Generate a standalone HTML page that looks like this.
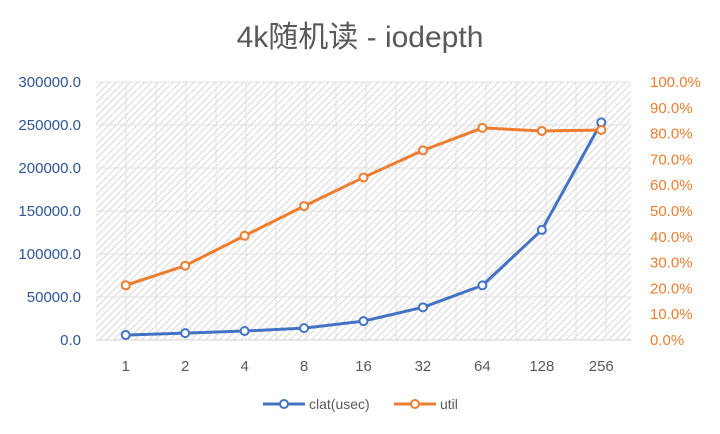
<!DOCTYPE html>
<html><head><meta charset="utf-8"><style>
body{margin:0;background:#fff;}
svg{display:block;font-family:"Liberation Sans","Noto Sans CJK SC",sans-serif;}
</style></head><body>
<svg width="720" height="434">
<defs>
<pattern id="hatch" patternUnits="userSpaceOnUse" width="5" height="5" patternTransform="rotate(45)">
<rect width="5" height="5" fill="#fff"/><line x1="0" y1="0" x2="0" y2="5" stroke="#d8d8d8" stroke-width="2"/>
</pattern>
</defs>
<text x="360" y="47" text-anchor="middle" font-size="30" fill="#595959">4k随机读 - iodepth</text>
<rect x="96" y="82" width="535" height="258" fill="url(#hatch)"/>
<g id="grid"></g><g id="axes"></g><g id="series"></g>
<g>
<line x1="263" y1="404" x2="305" y2="404" stroke="#4472c4" stroke-width="3"/><circle cx="284" cy="404" r="4" fill="#fff" stroke="#4472c4" stroke-width="2"/>
<text x="309" y="409" font-size="14" fill="#595959">clat(usec)</text>
<line x1="394" y1="404" x2="436" y2="404" stroke="#ed7d31" stroke-width="3"/><circle cx="415" cy="404" r="4" fill="#fff" stroke="#ed7d31" stroke-width="2"/>
<text x="440" y="409" font-size="14" fill="#595959">util</text>
</g>
</svg>
<script>
const categories=["1","2","4","8","16","32","64","128","256"];
const clat=[5800,8000,10400,13800,22000,38000,63500,128000,253000];
const util=[21.2,28.8,40.4,51.9,63.0,73.5,82.2,81.0,81.4];
const leftTicks=[0,50000,100000,150000,200000,250000,300000];
const rightTicks=[0,10,20,30,40,50,60,70,80,90,100];
const NS="http://www.w3.org/2000/svg";
const L=96,R=631,T=82,B=340;
const xs=i=>L+(R-L)/categories.length*(i+0.5);
const yl=v=>B-(B-T)*v/300000;
const yr=v=>B-(B-T)*v/100;
function mk(tag,attrs,parent){const e=document.createElementNS(NS,tag);for(const k in attrs)e.setAttribute(k,attrs[k]);document.getElementById(parent).appendChild(e);return e;}
for(let x=L+30;x<R;x+=30){const e=mk('line',{x1:x,y1:T,x2:x,y2:B,stroke:'#e0e0e0','stroke-width':1},'grid');

}
leftTicks.forEach(v=>{const y=yl(v);
const g=mk('line',{x1:L,y1:y,x2:R,y2:y,stroke:v===0?'#d0d0d0':'#e0e0e0','stroke-width':1},'grid');


const t=mk('text',{x:81,y:y+5,'text-anchor':'end','font-size':15,fill:'#2e5597'},'axes');t.textContent=v.toFixed(1);

});
rightTicks.forEach(v=>{const t=mk('text',{x:650,y:yr(v)+5,'font-size':15,fill:'#ed7d31'},'axes');t.textContent=v.toFixed(1)+'%';

});
categories.forEach((c,i)=>{const t=mk('text',{x:xs(i),y:371,'text-anchor':'middle','font-size':15,fill:'#595959'},'axes');t.textContent=c;

});
function series(vals,yf,color,name){
const p=mk('polyline',{points:vals.map((v,i)=>xs(i)+','+yf(v)).join(' '),fill:'none',stroke:color,'stroke-width':3,'stroke-linejoin':'round'},'series');


vals.forEach((v,i)=>{const c=mk('circle',{cx:xs(i),cy:yf(v),r:4,fill:'#fff',stroke:color,'stroke-width':2},'series');

});}
series(clat,yl,'#4472c4','clat');
series(util,yr,'#ed7d31','util');
</script>
</body></html>
